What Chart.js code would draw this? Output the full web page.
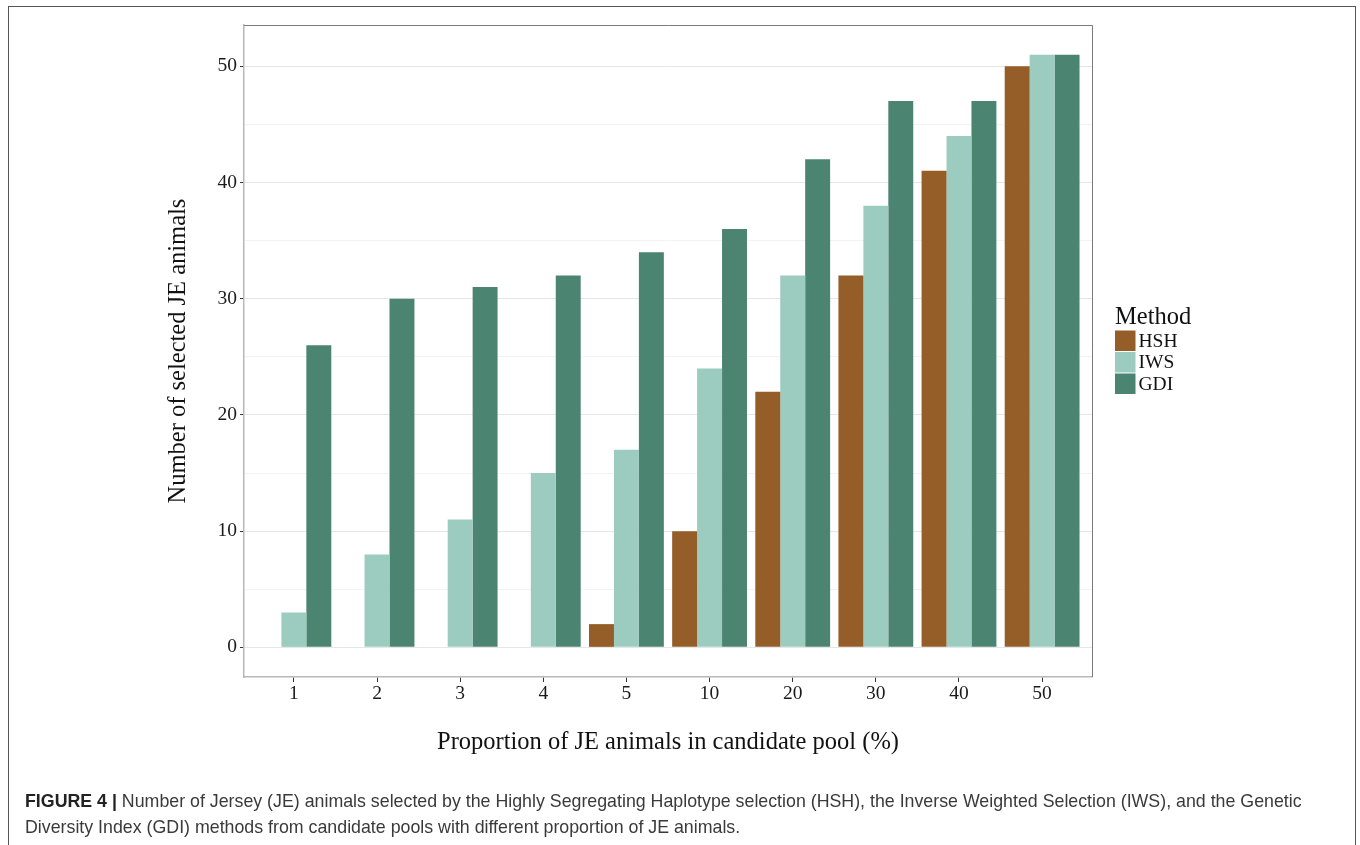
<!DOCTYPE html>
<html>
<head>
<meta charset="utf-8">
<title>Number of selected JE animals</title>
<script src="https://cdn.jsdelivr.net/npm/chart.js@4/dist/chart.umd.min.js"></script>
<style>
  html, body { margin: 0; padding: 0; width: 1360px; height: 845px; overflow: hidden; background: #fff; }
  #frame { position: absolute; left: 8px; top: 6px; width: 1348px; height: 900px; border: 1.5px solid #555; box-sizing: border-box; }
  #wrap { position: absolute; left: 0; top: 0; width: 1360px; height: 845px; }
  #caption { position: absolute; left: 25px; top: 788px; white-space: nowrap;
             font-family: "Liberation Sans", Arial, sans-serif; font-size: 17.8px; line-height: 26px; color: #3a3a3a; }
  #caption b { color: #222; }
</style>
</head>
<body>
<div id="frame"></div>
<div id="wrap"><canvas id="chart" width="1360" height="845"></canvas></div>
<div id="caption"><b>FIGURE 4 |</b> Number of Jersey (JE) animals selected by the Highly Segregating Haplotype selection (HSH), the Inverse Weighted Selection (IWS), and the Genetic<br>Diversity Index (GDI) methods from candidate pools with different proportion of JE animals.</div>
<script>
// Proportion of JE animals in the candidate pool (%)
const poolLabels = ['1', '2', '3', '4', '5', '10', '20', '30', '40', '50'];
// Number of selected JE animals per method
const hshCounts = [0, 0, 0, 0, 2, 10, 22, 32, 41, 50];
const iwsCounts = [3, 8, 11, 15, 17, 24, 32, 38, 44, 51];
const gdiCounts = [26, 30, 31, 32, 34, 36, 42, 47, 47, 51];
const methodNames = ['HSH', 'IWS', 'GDI'];
const methodColors = ['#955e29', '#9ccbc0', '#4b8470'];
// y axis: labelled ticks every 10, minor grid every 5
const yMajorTicks = [0, 10, 20, 30, 40, 50];
const yMinorTicks = [5, 15, 25, 35, 45];

const SERIF = "'Liberation Serif', 'Times New Roman', Times, serif";
Chart.defaults.font.family = SERIF;
Chart.defaults.color = '#1a1a1a';

const toPoints = arr => arr.map((v, i) => ({ x: i + 1, y: v }));
const seriesValues = [hshCounts, iwsCounts, gdiCounts];

// Legend drawn at the right of the panel, left aligned like the rest of the figure
const methodLegend = {
  id: 'methodLegend',
  afterDraw(chart, args, o) {
    const ctx = chart.ctx;
    ctx.save();
    ctx.fillStyle = '#111';
    ctx.textAlign = 'left';
    ctx.textBaseline = 'alphabetic';
    ctx.font = `${o.titleSize}px ${SERIF}`;
    ctx.fillText(o.title, o.x, o.titleBaseline);
    ctx.font = `${o.labelSize}px ${SERIF}`;
    ctx.textBaseline = 'middle';
    chart.data.datasets.forEach((ds, i) => {
      const y = o.top + i * o.step;
      ctx.fillStyle = ds.backgroundColor;
      ctx.fillRect(o.x, y, o.box, o.box);
      ctx.fillStyle = '#111';
      ctx.fillText(ds.label, o.x + o.box + 3, y + o.box / 2 + 1);
    });
    ctx.restore();
  }
};

// Dark top and right edges of the panel
const panelEdges = {
  id: 'panelEdges',
  afterDraw(chart) {
    const { ctx, chartArea: a } = chart;
    ctx.save();
    ctx.strokeStyle = '#7a7a7a';
    ctx.lineWidth = 1;
    ctx.beginPath();
    ctx.moveTo(a.left, a.top + 0.5);
    ctx.lineTo(a.right + 0.5, a.top + 0.5);
    ctx.lineTo(a.right + 0.5, a.bottom);
    ctx.stroke();
    ctx.restore();
  }
};

new Chart(document.getElementById('chart'), {
  type: 'bar',
  data: {
    datasets: methodNames.map((name, i) => ({
      label: name,
      data: toPoints(seriesValues[i]),
      backgroundColor: methodColors[i],
      borderWidth: 0,
      barPercentage: 1,
      categoryPercentage: 0.9
    }))
  },
  options: {
    responsive: false,
    animation: false,
    layout: { padding: { left: 0, top: 25, right: 268, bottom: 78 } },
    plugins: {
      legend: { display: false },
      tooltip: { enabled: false },
      methodLegend: { title: 'Method', x: 1115, titleBaseline: 324, titleSize: 24.5,
                      labelSize: 19.5, top: 330.5, step: 21.5, box: 20.5 }
    },
    scales: {
      x: {
        type: 'linear',
        min: 0.4,
        max: 10.6,
        offset: false,
        afterBuildTicks: s => { s.ticks = poolLabels.map((_, i) => ({ value: i + 1 })); },
        afterFit: s => { s.height = 90; },
        ticks: {
          autoSkip: false, maxRotation: 0, padding: 0,
          font: { size: 19.5 }, color: '#1a1a1a',
          callback: v => poolLabels[v - 1]
        },
        grid: { offset: false, drawOnChartArea: false, drawTicks: true, tickLength: 5, tickColor: '#333', color: '#333' },
        border: { display: true, color: '#b8b8b8', width: 1.5 },
        title: { display: true, text: 'Proportion of JE animals in candidate pool (%)',
                 font: { size: 24.5 }, color: '#111', padding: { top: 0, bottom: 10 } }
      },
      y: {
        min: -2.55,
        max: 53.55,
        afterBuildTicks: s => {
          s.ticks = yMajorTicks.concat(yMinorTicks).sort((a, b) => a - b).map(v => ({ value: v }));
        },
        afterFit: s => { s.width = 244; },
        ticks: {
          padding: 3, font: { size: 19.5 }, color: '#1a1a1a',
          callback: v => (yMajorTicks.includes(v) ? String(v) : '')
        },
        grid: {
          color: c => (yMajorTicks.includes(c.tick.value) ? '#e6e6e6' : '#f3f3f3'),
          lineWidth: 1,
          tickLength: 4,
          tickColor: c => (yMajorTicks.includes(c.tick.value) ? '#333' : 'rgba(0,0,0,0)')
        },
        border: { display: true, color: '#b8b8b8', width: 1.5 },
        title: { display: true, text: 'Number of selected JE animals',
                 font: { size: 24.5 }, color: '#111', padding: { top: 164, bottom: 0 } }
      }
    }
  },
  plugins: [methodLegend, panelEdges]
});
</script>
</body>
</html>
